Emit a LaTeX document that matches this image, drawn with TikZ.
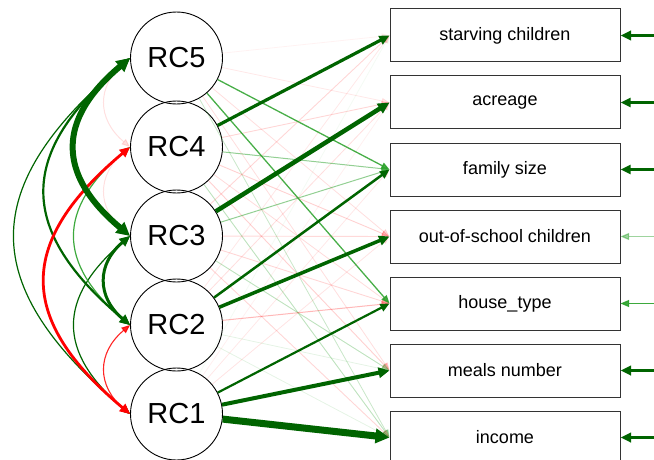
\documentclass[tikz,border=0pt]{standalone}
\usepackage{fontspec}
\setmainfont{Liberation Sans}
\usetikzlibrary{arrows.meta,calc}
\definecolor{pos}{RGB}{0,100,0}
\definecolor{lpos}{RGB}{40,160,40}
\definecolor{neg}{RGB}{255,0,0}
% loading edge: from, to, colour, width, opacity
\newcommand\myld[5]{%
  \pgfmathsetmacro\myAL{7+1.0*#4}\pgfmathsetmacro\myAW{5+1.3*#4}%
  \draw[draw=#3, line width=#4pt, opacity=#5, -{Triangle[length=\myAL pt,width=\myAW pt]}] (#1) -- (#2.west);}
% covariance arc: top, bottom, colour, width, opacity, bulge
\newcommand\mycov[6]{%
  \pgfmathsetmacro\myAL{7.5+1.0*#4}\pgfmathsetmacro\myAW{5.5+1.3*#4}%
  \pgfmathsetmacro\myCX{#6/0.75}\pgfmathsetmacro\myCY{0.84*\myCX}%
  \draw[draw=#3, line width=#4pt, opacity=#5, {Triangle[length=\myAL pt,width=\myAW pt]}-{Triangle[length=\myAL pt,width=\myAW pt]}]
    (#1.west) .. controls ($(#1.west)+(-\myCX,\myCY)$) and ($(#2.west)+(-\myCX,-\myCY)$) .. (#2.west);}
% residual: box, colour, width, opacity
\newcommand\myres[4]{%
  \pgfmathsetmacro\myAL{7.5+1.0*#3}\pgfmathsetmacro\myAW{5.5+1.3*#3}%
  \coordinate (r#1) at (654,0 |- #1.east);
  \draw[draw=#2, line width=#3pt, opacity=#4, -{Triangle[length=\myAL pt,width=\myAW pt]}] (r#1) -- (#1.east);}
\begin{document}
\begin{tikzpicture}[x=1pt,y=-1pt,
  lat/.style={circle, draw=black, line width=0.9pt, minimum size=92pt, inner sep=0pt, font=\fontsize{29}{34}\selectfont},
  man/.style={rectangle, draw=black!80, line width=1pt, minimum width=230pt, minimum height=53pt, inner sep=0pt, font=\fontsize{18}{21}\selectfont}]
\useasboundingbox (0,0) rectangle (654,460);
% latent circles
\node[lat] (RC5) at (176.5,58) {RC5};
\node[lat] (RC4) at (176.5,147) {RC4};
\node[lat] (RC3) at (176.5,236) {RC3};
\node[lat] (RC2) at (176.5,325) {RC2};
\node[lat] (RC1) at (176.5,414) {RC1};
% manifest boxes
\node[man] (S) at (505,35.5) {starving children};
\node[man] (A) at (505,102.5) {acreage};
\node[man] (F) at (505,169.5) {family size};
\node[man] (O) at (505,236.5) {out-of-school children};
\node[man] (H) at (505,303.5) {house\_type};
\node[man] (M) at (505,370.5) {meals number};
\node[man] (I) at (505,437.5) {income};
% faint loadings
\myld{RC5}{S}{neg}{0.8}{0.05}
\myld{RC5}{A}{neg}{0.8}{0.09}
\myld{RC5}{O}{neg}{0.8}{0.13}
\myld{RC5}{M}{neg}{0.8}{0.13}
\myld{RC5}{I}{lpos}{0.8}{0.25}
\myld{RC4}{A}{neg}{0.9}{0.16}
\myld{RC4}{O}{neg}{0.9}{0.18}
\myld{RC4}{H}{neg}{0.8}{0.14}
\myld{RC4}{M}{neg}{0.9}{0.18}
\myld{RC4}{I}{lpos}{0.9}{0.3}
\myld{RC3}{S}{neg}{0.9}{0.16}
\myld{RC3}{O}{neg}{0.9}{0.15}
\myld{RC3}{H}{neg}{0.9}{0.16}
\myld{RC3}{M}{lpos}{0.9}{0.3}
\myld{RC3}{I}{neg}{0.9}{0.16}
\myld{RC2}{S}{neg}{0.8}{0.09}
\myld{RC2}{A}{neg}{0.8}{0.13}
\myld{RC2}{H}{neg}{1}{0.28}
\myld{RC2}{M}{lpos}{0.8}{0.12}
\myld{RC2}{I}{lpos}{0.8}{0.12}
\myld{RC1}{S}{lpos}{0.8}{0.05}
\myld{RC1}{A}{neg}{0.8}{0.06}
\myld{RC1}{F}{neg}{0.8}{0.09}
\myld{RC1}{O}{neg}{0.8}{0.11}
% medium loadings
\myld{RC4}{F}{lpos}{1}{0.5}
\myld{RC3}{F}{lpos}{1}{0.5}
\myld{RC5}{F}{lpos}{1.3}{0.85}
\myld{RC5}{H}{lpos}{1.3}{0.85}
% strong loadings
\myld{RC4}{S}{pos}{3.2}{1}
\myld{RC3}{A}{pos}{4.5}{1}
\myld{RC2}{F}{pos}{2.5}{1}
\myld{RC2}{O}{pos}{3.5}{1}
\myld{RC1}{H}{pos}{2.2}{1}
\myld{RC1}{M}{pos}{4}{1}
\myld{RC1}{I}{pos}{7}{1}
% covariances
\mycov{RC5}{RC4}{neg}{1}{0.12}{25}
\mycov{RC4}{RC3}{neg}{1}{0.12}{25}
\mycov{RC5}{RC1}{pos}{1.2}{1}{115}
\mycov{RC3}{RC1}{pos}{1.2}{1}{55}
\mycov{RC4}{RC2}{lpos}{1.2}{0.9}{55}
\mycov{RC2}{RC1}{neg}{1.1}{0.85}{25}
\mycov{RC5}{RC2}{pos}{2.2}{1}{85}
\mycov{RC4}{RC1}{neg}{2.8}{1}{85}
\mycov{RC3}{RC2}{pos}{3}{1}{25}
\mycov{RC5}{RC3}{pos}{6}{1}{55}
% residuals
\myres{S}{pos}{3}{1}
\myres{A}{pos}{2.5}{1}
\myres{F}{pos}{2.5}{1}
\myres{O}{lpos}{1.2}{0.45}
\myres{H}{lpos}{1.2}{0.9}
\myres{M}{pos}{3}{1}
\myres{I}{pos}{3}{1}
\end{tikzpicture}
\end{document}
